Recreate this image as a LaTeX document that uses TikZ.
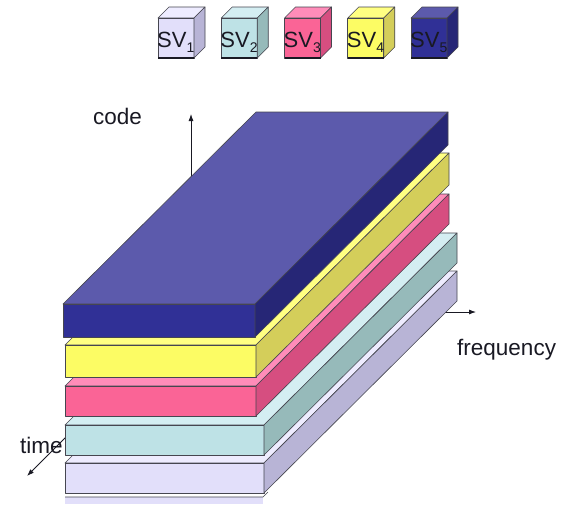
\documentclass[tikz,border=0pt]{standalone}
\usepackage{fontspec}
\setmainfont{Liberation Sans}
\usetikzlibrary{arrows.meta}
\definecolor{lavF}{RGB}{226,223,250}
\definecolor{lavT}{RGB}{238,236,255}
\definecolor{lavS}{RGB}{184,180,214}
\definecolor{cyaF}{RGB}{190,226,230}
\definecolor{cyaT}{RGB}{212,238,242}
\definecolor{cyaS}{RGB}{150,186,186}
\definecolor{pinF}{RGB}{250,100,150}
\definecolor{pinT}{RGB}{255,140,185}
\definecolor{pinS}{RGB}{214,78,128}
\definecolor{yelF}{RGB}{252,252,100}
\definecolor{yelT}{RGB}{255,255,130}
\definecolor{yelS}{RGB}{212,206,90}
\definecolor{bluF}{RGB}{48,48,150}
\definecolor{bluT}{RGB}{92,90,172}
\definecolor{bluS}{RGB}{38,38,118}
\definecolor{edgecol}{RGB}{70,70,80}
\definecolor{txtcol}{RGB}{25,25,35}
\tikzset{
  facet/.style={draw=edgecol,line width=0.6pt,line join=round},
  axisarrow/.style={draw=txtcol,line width=0.8pt,-{Latex[length=7pt,width=5pt]}},
  axislabel/.style={anchor=base west,inner sep=0pt,text=txtcol,font=\fontsize{22.5}{22.5}\selectfont},
  svlabel/.style={anchor=base west,inner sep=0pt,text=txtcol,font=\fontsize{22}{22}\selectfont}
}
% #1 xl, #2 xr, #3 y top, #4 thickness, #5 front, #6 top, #7 side
\newcommand{\myslab}[7]{%
  \filldraw[facet,fill=#6] (#1,#3) -- ++(193,-192) -- ++({#2-#1},0) -- (#2,#3) -- cycle;
  \filldraw[facet,fill=#5] (#1,#3) rectangle (#2,{#3+#4});
  \filldraw[facet,fill=#7] (#2,#3) -- ++(193,-192) -- ++(0,#4) -- ++(-193,192) -- cycle;
}
% #1 name, #2 x, #3 front, #4 top, #5 side, #6 digit
\newcommand{\mycube}[6]{%
  \filldraw[facet,fill=#4] (#2,18) -- ++(11,-11) -- ++(36,0) -- ++(-11,11) -- cycle;
  \filldraw[facet,fill=#3] (#2,18) rectangle ({#2+36},58);
  \filldraw[facet,fill=#5] ({#2+36},18) -- ++(11,-11) -- ++(0,40) -- ++(-11,11) -- cycle;
  \draw[txtcol,line width=1.6pt] (#2,58) -- ({#2+36},58);
  \node[svlabel] (#1) at ({#2-1},47) {SV\raisebox{-5pt}{\fontsize{14}{14}\selectfont #6}};
}
\begin{document}
\begin{tikzpicture}[x=1pt,y=-1pt]
\clip (0,0) rectangle (562,504);
\fill[white] (0,0) rectangle (562,504);
% legend
\mycube{sv1}{158}{lavF}{lavT}{lavS}{1}
\mycube{sv2}{221.25}{cyaF}{cyaT}{cyaS}{2}
\mycube{sv3}{284.5}{pinF}{pinT}{pinS}{3}
\mycube{sv4}{347.75}{yelF}{yelT}{yelS}{4}
\mycube{sv5}{411}{bluF}{bluT}{bluS}{5}
% axes
\coordinate (O) at (191,312);
\coordinate (codeend) at (191,114);
\coordinate (freqend) at (476,312);
\coordinate (timeend) at (27,476);
\draw[axisarrow] (O) -- (codeend);
\draw[axisarrow] (O) -- (freqend);
\draw[axisarrow] (O) -- (timeend);
\node[axislabel] (codelbl) at (93,124) {code};
\node[axislabel] (freqlbl) at (457,355) {frequency};
\node[axislabel] (timelbl) at (20,453) {time};
% bottom stub
\fill[lavF] (65,497) rectangle (263,504);
\draw[facet] (65,497) -- (263,497) -- (268,492);
% slabs, bottom to top
\myslab{65}{264}{463}{30}{lavF}{lavT}{lavS}
\myslab{65}{264}{425}{30}{cyaF}{cyaT}{cyaS}
\myslab{65}{256}{386}{30}{pinF}{pinT}{pinS}
\myslab{65}{256}{345}{32}{yelF}{yelT}{yelS}
\myslab{63}{255}{304}{33}{bluF}{bluT}{bluS}
\end{tikzpicture}
\end{document}
